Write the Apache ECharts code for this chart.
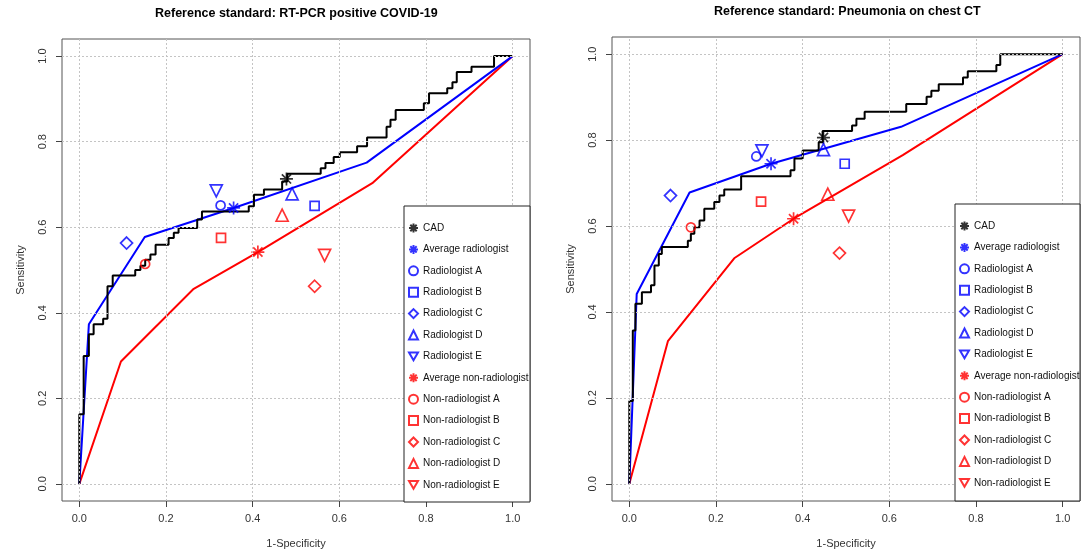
<!DOCTYPE html>
<html>
<head>
<meta charset="utf-8">
<script src="https://cdn.jsdelivr.net/npm/echarts@6/dist/echarts.min.js"></script>
<style>
  html, body { margin: 0; padding: 0; background: #fff; }
  #chart { width: 1089px; height: 554px; }
</style>
</head>
<body>
<div id="chart"></div>
<script>
// tick values shared by both panels
const ticks = [0, 0.2, 0.4, 0.6, 0.8, 1.0]

const readerNames = [
  'CAD', 'Average radiologist',
  'Radiologist A', 'Radiologist B', 'Radiologist C', 'Radiologist D', 'Radiologist E',
  'Average non-radiologist',
  'Non-radiologist A', 'Non-radiologist B', 'Non-radiologist C', 'Non-radiologist D', 'Non-radiologist E'
]

// operating points, panel 1 (RT-PCR)
const covidFpr  = [0.478, 0.356, 0.326, 0.543, 0.109, 0.491, 0.316, 0.412, 0.152, 0.327, 0.543, 0.468, 0.566]
const covidSens = [0.713, 0.645, 0.651, 0.650, 0.563, 0.678, 0.685, 0.542, 0.514, 0.575, 0.462, 0.628, 0.534]

// operating points, panel 2 (chest CT)
const ctFpr  = [0.448, 0.327, 0.293, 0.497, 0.095, 0.448, 0.306, 0.379, 0.142, 0.304, 0.485, 0.458, 0.506]
const ctSens = [0.806, 0.745, 0.762, 0.745, 0.671, 0.778, 0.775, 0.617, 0.597, 0.657, 0.537, 0.674, 0.623]

// CAD ROC step curves
const covidCad = [
  [0,0],[0,0.163],[0.010,0.163],[0.010,0.299],[0.022,0.299],[0.022,0.350],[0.033,0.350],[0.033,0.373],
  [0.055,0.373],[0.055,0.386],[0.065,0.386],[0.065,0.462],[0.077,0.462],[0.077,0.487],[0.129,0.487],
  [0.129,0.500],[0.141,0.500],[0.141,0.510],[0.152,0.510],[0.152,0.524],[0.164,0.524],[0.164,0.536],
  [0.176,0.536],[0.176,0.559],[0.206,0.559],[0.206,0.575],[0.218,0.575],[0.218,0.587],[0.229,0.587],
  [0.229,0.598],[0.272,0.598],[0.272,0.618],[0.283,0.618],[0.283,0.637],[0.391,0.637],[0.391,0.649],
  [0.403,0.649],[0.403,0.676],[0.426,0.676],[0.426,0.688],[0.468,0.688],[0.468,0.707],[0.480,0.707],
  [0.480,0.725],[0.557,0.725],[0.557,0.738],[0.568,0.738],[0.568,0.750],[0.587,0.750],[0.587,0.764],
  [0.601,0.764],[0.601,0.775],[0.641,0.775],[0.641,0.789],[0.664,0.789],[0.664,0.810],[0.709,0.810],
  [0.709,0.835],[0.718,0.835],[0.718,0.851],[0.730,0.851],[0.730,0.874],[0.795,0.874],[0.795,0.890],
  [0.807,0.890],[0.807,0.913],[0.849,0.913],[0.849,0.925],[0.861,0.925],[0.861,0.939],[0.871,0.939],
  [0.871,0.963],[0.905,0.963],[0.905,0.975],[0.957,0.975],[0.957,1],[1,1]
]
const ctCad = [
  [0,0],[0,0.193],[0.008,0.193],[0.008,0.357],[0.014,0.357],[0.014,0.419],[0.029,0.419],[0.029,0.446],
  [0.050,0.446],[0.050,0.462],[0.058,0.462],[0.058,0.508],[0.068,0.508],[0.068,0.535],[0.075,0.535],
  [0.075,0.551],[0.135,0.551],[0.135,0.566],[0.142,0.566],[0.142,0.582],[0.150,0.582],[0.150,0.597],
  [0.162,0.597],[0.162,0.613],[0.173,0.613],[0.173,0.640],[0.196,0.640],[0.196,0.656],[0.208,0.656],
  [0.208,0.671],[0.219,0.671],[0.219,0.685],[0.258,0.685],[0.258,0.716],[0.372,0.716],[0.372,0.730],
  [0.381,0.730],[0.381,0.757],[0.400,0.757],[0.400,0.776],[0.437,0.776],[0.437,0.795],[0.446,0.795],
  [0.446,0.821],[0.514,0.821],[0.514,0.834],[0.524,0.834],[0.524,0.850],[0.543,0.850],[0.543,0.866],
  [0.639,0.866],[0.639,0.884],[0.686,0.884],[0.686,0.901],[0.697,0.901],[0.697,0.915],[0.714,0.915],
  [0.714,0.930],[0.770,0.930],[0.770,0.946],[0.781,0.946],[0.781,0.960],[0.847,0.960],[0.847,0.975],
  [0.856,0.975],[0.856,1],[1,1]
]

// reader-average ROC curves
const covidRad    = [[0,0],[0.022,0.373],[0.151,0.577],[0.356,0.645],[0.663,0.751],[1,1]]
const covidNonrad = [[0,0],[0.096,0.286],[0.264,0.456],[0.412,0.542],[0.676,0.703],[1,1]]
const ctRad       = [[0,0],[0.017,0.442],[0.139,0.678],[0.327,0.745],[0.627,0.831],[1,1]]
const ctNonrad    = [[0,0],[0.089,0.332],[0.242,0.525],[0.379,0.617],[0.631,0.765],[1,1]]

const BLUE = '#0000ff'
const RED = '#ff0000'
const FONT = '"Liberation Sans", Arial, sans-serif'
const STAR = 'path://M0,-10L0,10M-10,0L10,0M-7.07,-7.07L7.07,7.07M-7.07,7.07L7.07,-7.07'
const TRI_DOWN = 'path://M-10,0L10,0L0,17.3Z'

// marker style for each reader (R pch 8, 1, 0, 5, 2, 6)
const markerStyle = [
  { symbol: STAR, size: 13, color: '#000' },
  { symbol: STAR, size: 13, color: BLUE },
  { symbol: 'circle', size: 9, color: BLUE },
  { symbol: 'rect', size: 9, color: BLUE },
  { symbol: 'diamond', size: 12, color: BLUE },
  { symbol: 'triangle', size: 12, color: BLUE },
  { symbol: TRI_DOWN, size: 12, color: BLUE },
  { symbol: STAR, size: 13, color: RED },
  { symbol: 'circle', size: 9, color: RED },
  { symbol: 'rect', size: 9, color: RED },
  { symbol: 'diamond', size: 12, color: RED },
  { symbol: 'triangle', size: 12, color: RED },
  { symbol: TRI_DOWN, size: 12, color: RED }
]

const chart = echarts.init(document.getElementById('chart'), null, { renderer: 'canvas' })

const grids = [
  { left: 62, top: 39, width: 468, height: 463 },
  { left: 612, top: 37, width: 468, height: 464 }
]

const xAxes = []
const yAxes = []
const series = []

grids.forEach((g, i) => {
  xAxes.push({
    type: 'value', gridIndex: i, min: -0.04, max: 1.04,
    axisLine: { show: false, onZero: false },
    splitLine: { show: false },
    axisTick: { show: true, customValues: ticks, length: 6, lineStyle: { color: '#444' } },
    axisLabel: { customValues: ticks, formatter: v => v.toFixed(1), margin: 12, fontSize: 11, color: '#333', fontFamily: FONT },
    name: '1-Specificity', nameLocation: 'middle', nameGap: 37,
    nameTextStyle: { fontSize: 11, color: '#333', fontFamily: FONT }
  })
  yAxes.push({
    type: 'value', gridIndex: i, min: -0.04, max: 1.04,
    axisLine: { show: false, onZero: false },
    splitLine: { show: false },
    axisTick: { show: true, customValues: ticks, length: 6, lineStyle: { color: '#444' } },
    axisLabel: { customValues: ticks, formatter: v => v.toFixed(1), rotate: 90, margin: 14, fontSize: 11, color: '#333', fontFamily: FONT },
    name: 'Sensitivity', nameLocation: 'middle', nameGap: 36, nameRotate: 90,
    nameTextStyle: { fontSize: 11, color: '#333', fontFamily: FONT }
  })
  // dotted grid
  series.push({
    type: 'line', name: 'grid' + i, xAxisIndex: i, yAxisIndex: i, data: [], z: 5, silent: true,
    markLine: {
      silent: true, symbol: ['none', 'none'], label: { show: false }, animation: false,
      lineStyle: { type: [2, 2], color: '#c4c4c4', width: 1 },
      emphasis: { disabled: true },
      data: ticks.map(v => ({ xAxis: v })).concat(ticks.map(v => ({ yAxis: v })))
    }
  })
})

const panels = [
  { cad: covidCad, rad: covidRad, nonrad: covidNonrad, fpr: covidFpr, sens: covidSens },
  { cad: ctCad, rad: ctRad, nonrad: ctNonrad, fpr: ctFpr, sens: ctSens }
]

panels.forEach((p, i) => {
  const lineBase = { type: 'line', xAxisIndex: i, yAxisIndex: i, symbol: 'none', silent: true, z: 3 }
  series.push({ ...lineBase, name: 'nonrad-roc' + i, data: p.nonrad, lineStyle: { color: RED, width: 2 } })
  series.push({ ...lineBase, name: 'rad-roc' + i, data: p.rad, lineStyle: { color: BLUE, width: 2 } })
  series.push({ ...lineBase, name: 'cad-roc' + i, data: p.cad, lineStyle: { color: '#000', width: 2 } })
  readerNames.forEach((name, k) => {
    const m = markerStyle[k]
    series.push({
      type: 'scatter', name: name, xAxisIndex: i, yAxisIndex: i, z: 4,
      symbol: m.symbol, symbolSize: m.size,
      itemStyle: { color: 'rgba(0,0,0,0)', borderColor: m.color, borderWidth: 1.7 },
      data: [[p.fpr[k], p.sens[k]]]
    })
  })
})

const legendBoxes = [
  { x: 404, y: 206, w: 126, h: 296 },
  { x: 955, y: 204, w: 125, h: 297 }
]

const option = {
  animation: false,
  backgroundColor: '#fff',
  textStyle: { fontFamily: FONT },
  title: [
    { text: 'Reference standard: RT-PCR positive COVID-19', left: 155, top: 7, padding: 0,
      textStyle: { fontSize: 12.5, fontWeight: 'bold', color: '#000', fontFamily: FONT } },
    { text: 'Reference standard: Pneumonia on chest CT', left: 714, top: 5, padding: 0,
      textStyle: { fontSize: 12.5, fontWeight: 'bold', color: '#000', fontFamily: FONT } }
  ],
  grid: grids.map(g => ({ ...g, show: true, borderColor: '#555', borderWidth: 1, backgroundColor: 'transparent' })),
  xAxis: xAxes,
  yAxis: yAxes,
  legend: legendBoxes.map(b => ({
    orient: 'vertical', left: b.x + 4, top: b.y + 16, padding: 0,
    itemWidth: 9, itemHeight: 9, itemGap: 9.4, selectedMode: false, z: 10,
    textStyle: { fontSize: 10, lineHeight: 12, color: '#111', fontFamily: FONT },
    data: readerNames
  })),
  graphic: legendBoxes.map(b => ({
    type: 'rect', z: 8, silent: true,
    shape: { x: b.x, y: b.y, width: b.w, height: b.h },
    style: { fill: '#fff', stroke: '#222', lineWidth: 1 }
  })),
  series: series
}

chart.setOption(option)
</script>
</body>
</html>
